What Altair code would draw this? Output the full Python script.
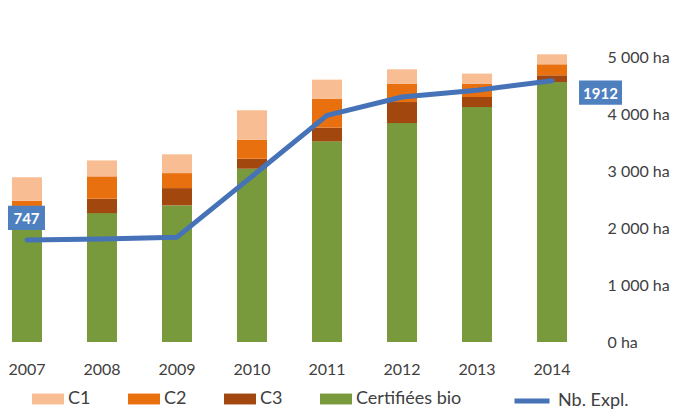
import altair as alt
import pandas as pd

years = ["2007", "2008", "2009", "2010", "2011", "2012", "2013", "2014"]
bio = [2250, 2261, 2396, 3041, 3520, 3841, 4122, 4561]
c3 = [120, 253, 304, 175, 240, 369, 176, 118]
c2 = [110, 392, 263, 334, 510, 323, 235, 193]
c1 = [410, 280, 329, 514, 333, 251, 176, 175]
expl = [747, 754, 767, 1212, 1658, 1792, 1841, 1912]

series = ["C1", "C2", "C3", "Certifiées bio"]
series_colors = ["#F8BD93", "#E8700F", "#A2480F", "#789A3C"]
y_ticks = [0, 1000, 2000, 3000, 4000, 5000]

rows = []
for i, yv in enumerate(years):
    for name, vals, o in [("Certifiées bio", bio, 0), ("C3", c3, 1), ("C2", c2, 2), ("C1", c1, 3)]:
        rows.append({"year": yv, "serie": name, "value": vals[i], "ord": o})
df = pd.DataFrame(rows)
ldf = pd.DataFrame({"year": years, "expl": expl, "lab": ["Nb. Expl."] * len(years)})

font = "Lato"
txtc = "#404040"
line_color = "#4672B8"
box_color = "#4E80C0"
line_dom = [0, 2085]

xenc = alt.X("year:N", sort=years,
             scale=alt.Scale(paddingInner=0.6, paddingOuter=0.053),
             axis=alt.Axis(title=None, labelAngle=0, ticks=False, tickSize=0, domain=False,
                           labelPadding=27, labelBaseline="middle", labelFont=font,
                           labelFontSize=16, labelColor=txtc, grid=False))

bars = alt.Chart(df).mark_bar().encode(
    x=xenc,
    y=alt.Y("value:Q", stack="zero",
            scale=alt.Scale(domain=[0, 5000], nice=False),
            axis=alt.Axis(orient="right", values=y_ticks, grid=False, domain=False, ticks=False,
                          tickSize=0, labelPadding=36, title=None, labelFont=font,
                          labelFontSize=16, labelColor=txtc, labelBaseline="middle",
                          labelExpr="datum.value == 0 ? '0 ha' : replace(format(datum.value, ','), ',', ' ') + ' ha'")),
    color=alt.Color("serie:N", scale=alt.Scale(domain=series, range=series_colors),
                    legend=alt.Legend(title=None, orient="none", legendX=24, legendY=326,
                                      direction="horizontal", columns=4, columnPadding=37,
                                      symbolType="M-1,-0.34H1V0.34H-1Z", symbolSize=1024,
                                      symbolStrokeWidth=0, labelOffset=4, labelFont=font,
                                      labelFontSize=18, labelColor=txtc, padding=0)),
    order=alt.Order("ord:Q"),
)

line = alt.Chart(ldf).mark_line(strokeWidth=5, strokeJoin="round", strokeCap="round").encode(
    x=alt.X("year:N", sort=years),
    y=alt.Y("expl:Q", scale=alt.Scale(domain=line_dom, nice=False), axis=None),
    color=alt.Color("lab:N", scale=alt.Scale(domain=["Nb. Expl."], range=[line_color]),
                    legend=alt.Legend(title=None, orient="none", legendX=504, legendY=324,
                                      symbolType="stroke", symbolSize=1225, symbolStrokeWidth=5,
                                      labelOffset=6, labelFont=font, labelFontSize=18,
                                      labelColor=txtc, padding=0)),
)

def label_layers(year, xo, yo, shape, size):
    base = alt.Chart(ldf).transform_filter(alt.datum.year == year)
    enc = dict(x=alt.X("year:N", sort=years),
               y=alt.Y("expl:Q", scale=alt.Scale(domain=line_dom, nice=False), axis=None))
    box = base.mark_point(shape=shape, size=size, filled=True, opacity=1, color=box_color,
                          strokeWidth=0, xOffset=xo, yOffset=yo).encode(**enc)
    txt = base.mark_text(color="white", fontWeight="bold", fontSize=15, font=font,
                         xOffset=xo, yOffset=yo + 1).encode(text="expl:Q", **enc)
    return [box, txt]

lab1 = label_layers("2007", -0.5, -22, "M-1,-0.65H1V0.65H-1Z", 1369)
lab2 = label_layers("2014", 48.5, 12, "M-1,-0.56H1V0.56H-1Z", 1849)

chart = alt.layer(bars, line, *lab1, *lab2).resolve_scale(
    y="independent", color="independent"
).properties(
    width=563, height=285,
    padding={"left": 0, "top": 49, "right": 104, "bottom": 68},
    autosize=alt.AutoSizeParams(type="none"),
    background="white",
).configure_view(stroke=None)

chart.save("out.html", embed_options={"renderer": "svg", "actions": False})
